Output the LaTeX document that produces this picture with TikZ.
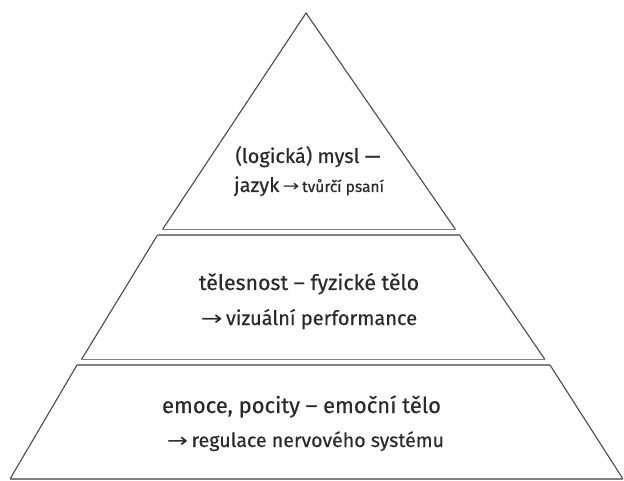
\documentclass[tikz,border=0pt]{standalone}
\usepackage{fontspec}
\usepackage{graphicx}
\setmainfont{Fira Sans}[FakeBold=0.4]
\newfontfamily\arrowfont{DejaVu Sans}
\newcommand\myarr{{\arrowfont\scalebox{1.3}[1]{→}}}
\definecolor{edge}{HTML}{4A4A4A}
\definecolor{baseln}{HTML}{808080}
\definecolor{txt}{HTML}{2A2A2A}
\begin{document}
\begin{tikzpicture}[x=1pt,y=-1pt,
  band/.style={draw=edge, line width=1.1pt, line join=miter},
  hline/.style={draw=baseln, line width=1.6pt},
  lbl/.style={text=txt, anchor=base, inner sep=0pt}]
\useasboundingbox (0,0) rectangle (624,481);
\fill[white] (0,0) rectangle (624,481);
% top triangle
\coordinate (apex) at (306,13);
\coordinate (t1) at (162.5,229.5);
\coordinate (t2) at (455.5,229.5);
\draw[band] (t1) -- (apex) -- (t2);
\draw[hline] (t1) -- (t2);
% middle band
\coordinate (m1) at (157.5,235);
\coordinate (m2) at (459.5,235);
\coordinate (m3) at (545,359.5);
\coordinate (m4) at (81.5,359.5);
\draw[band] (m4) -- (m1) (m2) -- (m3);
\draw[hline] (m1) -- (m2) (m4) -- (m3);
% bottom band
\coordinate (b1) at (77,365);
\coordinate (b2) at (550,365);
\coordinate (b3) at (623,479);
\coordinate (b4) at (10,479);
\draw[band] (b4) -- (b1) (b2) -- (b3);
\draw[hline] (b1) -- (b2);
\draw[hline, line width=2.2pt] (b4) -- (b3);
% texts
\node[lbl, font=\fontsize{20}{24}\selectfont] (a1) at (308,163) {(logická) mysl —};
\node[lbl, font=\fontsize{20}{24}\selectfont] (a2) at (309,192) {jazyk\,{\fontsize{15.5}{18}\selectfont\myarr\,tvůrčí psaní}};
\node[lbl, font=\fontsize{21.3}{26}\selectfont] (c1) at (309,290) {tělesnost – fyzické tělo};
\node[lbl, font=\fontsize{20}{24}\selectfont] (c2) at (309,325) {\myarr\,vizuální performance};
\node[lbl, font=\fontsize{22}{26}\selectfont] (d1) at (301.5,413) {emoce, pocity – emoční tělo};
\node[lbl, font=\fontsize{19.6}{23}\selectfont] (d2) at (305.5,447) {\myarr\,regulace nervového systému};
\end{tikzpicture}
\end{document}
